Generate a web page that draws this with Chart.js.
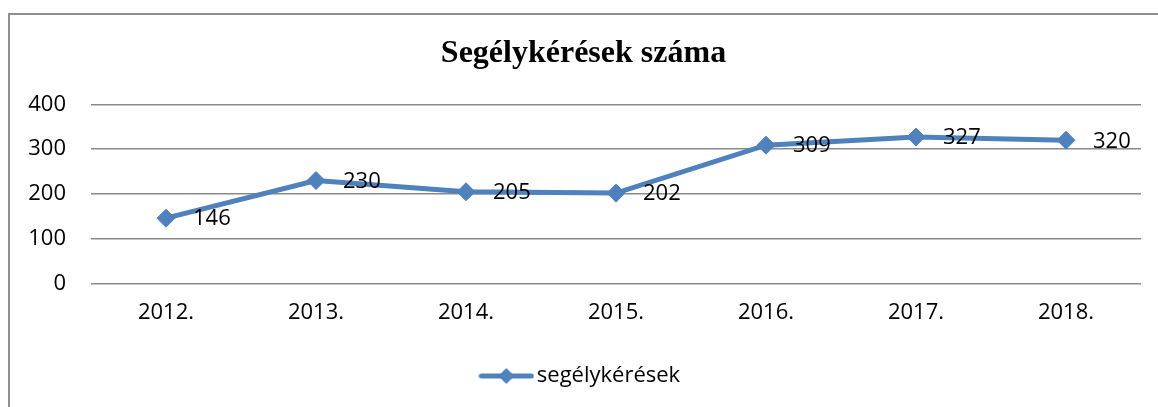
<!DOCTYPE html>
<html>
<head>
<meta charset="utf-8">
<title>Segélykérések száma</title>
<script src="https://cdn.jsdelivr.net/npm/chart.js@4.4.1/dist/chart.umd.min.js"></script>
<style>
    html, body { margin: 0; padding: 0; background: #fff; overflow: hidden; }
    #wrap { position: relative; width: 1158px; height: 407px; overflow: hidden; }
    /* frame of the chart object, cut off at right and bottom like the original */
    #frame {
        position: absolute; left: 8px; top: 13px; right: -20px; bottom: -20px;
        border-left: 2px solid #8e8e8e; border-top: 2px solid #8e8e8e;
    }
    #chart { position: absolute; left: 0; top: 0; }
</style>
</head>
<body>
<div id="wrap">
    <div id="frame"></div>
    <canvas id="chart" width="1158" height="407"></canvas>
</div>
<script>
// data
const years = ['2012.', '2013.', '2014.', '2015.', '2016.', '2017.', '2018.'];
const requests = [146, 230, 205, 202, 309, 327, 320];
const yTicks = [0, 100, 200, 300, 400];

const seriesLabel = 'segélykérések';
const chartTitle = 'Segélykérések száma';

const BLUE = '#4f81bd';
const FONT = "'Open Sans', 'Liberation Sans', sans-serif";

// legend icon: line with a diamond in the middle
function makeLegendIcon() {
    const c = document.createElement('canvas');
    c.width = 56;
    c.height = 20;
    const g = c.getContext('2d');
    g.strokeStyle = BLUE;
    g.lineWidth = 5;
    g.lineCap = 'round';
    g.beginPath();
    g.moveTo(3, 10);
    g.lineTo(53, 10);
    g.stroke();
    g.fillStyle = BLUE;
    g.beginPath();
    g.moveTo(28 - 8, 10);
    g.lineTo(28, 2);
    g.lineTo(28 + 8, 10);
    g.lineTo(28, 18);
    g.closePath();
    g.fill();
    return c;
}

// value labels to the right of every point
const valueLabels = {
    id: 'valueLabels',
    afterDatasetsDraw(chart) {
        const ctx = chart.ctx;
        ctx.save();
        ctx.font = '22px ' + FONT;
        ctx.fillStyle = '#000';
        ctx.textAlign = 'left';
        ctx.textBaseline = 'middle';
        chart.data.datasets.forEach((ds, i) => {
            const meta = chart.getDatasetMeta(i);
            meta.data.forEach((pt, j) => {
                ctx.fillText(String(ds.data[j]), pt.x + 27, pt.y + 1);
            });
        });
        ctx.restore();
    }
};

new Chart(document.getElementById('chart'), {
    type: 'line',
    data: {
        labels: years,
        datasets: [{
            label: seriesLabel,
            data: requests,
            borderColor: BLUE,
            backgroundColor: BLUE,
            borderWidth: 5,
            tension: 0,
            pointStyle: 'rectRot',
            pointRadius: 9,
            pointHoverRadius: 9,
            pointBorderWidth: 1,
            pointBackgroundColor: BLUE,
            pointBorderColor: BLUE,
            clip: false
        }]
    },
    options: {
        responsive: false,
        animation: false,
        layout: { padding: { left: 26, right: 17, top: 0, bottom: 10 } },
        plugins: {
            title: {
                display: true,
                text: chartTitle,
                color: '#000',
                font: { family: "'Liberation Serif', 'Times New Roman', serif", size: 32, weight: 'bold' },
                padding: { top: 35, bottom: 31 }
            },
            legend: {
                position: 'bottom',
                labels: {
                    usePointStyle: true,
                    pointStyle: makeLegendIcon(),
                    pointStyleWidth: 39,
                    padding: 23,
                    color: '#000',
                    font: { family: FONT, size: 22 }
                }
            },
            tooltip: { enabled: false }
        },
        scales: {
            x: {
                offset: true,
                grid: { display: false, drawTicks: false },
                border: { display: false },
                ticks: { color: '#000', padding: 16, font: { family: FONT, size: 22 }, maxRotation: 0 }
            },
            y: {
                min: 0,
                max: 400,
                afterBuildTicks: (scale) => { scale.ticks = yTicks.map(v => ({ value: v })); },
                afterFit: (scale) => { scale.width = 65; },
                grid: { color: '#8a8a8a', lineWidth: 1.5, drawTicks: false },
                border: { display: false },
                ticks: { color: '#000', padding: 25, font: { family: FONT, size: 22 } }
            }
        }
    },
    plugins: [valueLabels]
});
</script>
</body>
</html>
